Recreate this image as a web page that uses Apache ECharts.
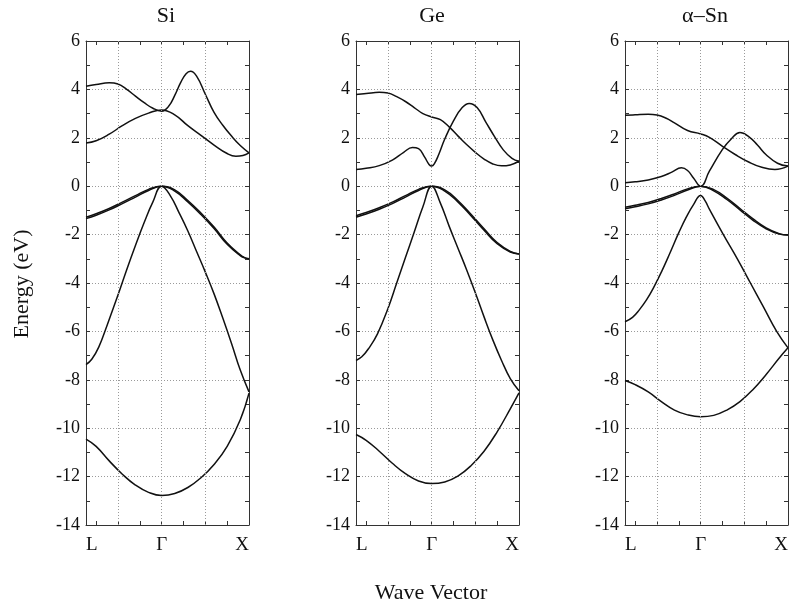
<!DOCTYPE html>
<html>
<head>
<meta charset="utf-8">
<script src="https://cdn.jsdelivr.net/npm/echarts@6/dist/echarts.min.js"></script>
<style>
  html, body { margin: 0; padding: 0; background: #fff; }
  #chart { width: 793px; height: 607px; }
</style>
</head>
<body>
<div id="chart"></div>
<script>
// k path: L (-0.866) -> Gamma (0) -> X (1)
const kPoints = [-0.866, 0, 1]
const kLabels = ['L', 'Γ', 'X']
const kGrid = [-0.5, 0, 0.5]
const kTicks = [-0.75, -0.5, -0.25, 0, 0.25, 0.5, 0.75]
const panelTitles = ['Si', 'Ge', 'α–Sn']
const energyMin = -14
const energyMax = 6

// each band is a list of [k, E(eV)]
const siBands = [
  [[-0.866, -10.45], [-0.75, -10.75], [-0.6, -11.35], [-0.45, -11.9], [-0.3, -12.35], [-0.15, -12.65], [0, -12.78], [0.15, -12.7], [0.3, -12.45], [0.45, -12.05], [0.6, -11.5], [0.75, -10.75], [0.9, -9.65], [1, -8.55]],
  [[-0.866, -7.37], [-0.8, -7.15], [-0.72, -6.65], [-0.62, -5.7], [-0.5, -4.5], [-0.4, -3.45], [-0.3, -2.45], [-0.2, -1.5], [-0.1, -0.65], [0, 0], [0.1, -0.4], [0.2, -1.1], [0.3, -1.85], [0.4, -2.7], [0.5, -3.55], [0.6, -4.45], [0.7, -5.45], [0.8, -6.5], [0.9, -7.6], [1, -8.5]],
  [[-0.866, -1.34], [-0.75, -1.2], [-0.6, -0.98], [-0.45, -0.72], [-0.3, -0.45], [-0.15, -0.18], [0, 0], [0.15, -0.2], [0.3, -0.65], [0.45, -1.17], [0.6, -1.75], [0.75, -2.4], [0.9, -2.87], [0.95, -2.96], [1, -3.0]],
  [[-0.866, -1.28], [-0.75, -1.14], [-0.6, -0.92], [-0.45, -0.66], [-0.3, -0.39], [-0.15, -0.13], [0, 0], [0.15, -0.15], [0.3, -0.59], [0.45, -1.11], [0.6, -1.69], [0.75, -2.35], [0.9, -2.84], [0.95, -2.95], [1, -3.0]],
  [[-0.866, 1.79], [-0.75, 1.88], [-0.6, 2.15], [-0.45, 2.5], [-0.3, 2.8], [-0.15, 3.02], [0, 3.15], [0.15, 2.95], [0.3, 2.5], [0.45, 2.1], [0.6, 1.7], [0.75, 1.35], [0.85, 1.24], [0.93, 1.27], [1, 1.38]],
  [[-0.866, 4.13], [-0.75, 4.2], [-0.6, 4.27], [-0.5, 4.22], [-0.4, 4.0], [-0.3, 3.72], [-0.2, 3.45], [-0.1, 3.22], [0, 3.1], [0.08, 3.3], [0.15, 3.75], [0.22, 4.3], [0.28, 4.65], [0.33, 4.75], [0.4, 4.55], [0.5, 3.8], [0.6, 3.05], [0.7, 2.52], [0.8, 2.07], [0.9, 1.68], [1, 1.38]],
]

const geBands = [
  [[-0.866, -10.26], [-0.75, -10.5], [-0.6, -10.95], [-0.45, -11.45], [-0.3, -11.88], [-0.15, -12.18], [0, -12.29], [0.15, -12.22], [0.3, -11.98], [0.45, -11.55], [0.6, -10.95], [0.75, -10.15], [0.9, -9.2], [1, -8.54]],
  [[-0.866, -7.2], [-0.8, -7.05], [-0.72, -6.7], [-0.62, -6.1], [-0.5, -5.05], [-0.4, -4.0], [-0.3, -2.95], [-0.2, -1.9], [-0.1, -0.85], [0, 0], [0.1, -0.7], [0.2, -1.65], [0.3, -2.55], [0.4, -3.45], [0.5, -4.4], [0.6, -5.4], [0.7, -6.35], [0.8, -7.2], [0.9, -7.95], [1, -8.45]],
  [[-0.866, -1.28], [-0.75, -1.15], [-0.6, -0.95], [-0.45, -0.72], [-0.3, -0.45], [-0.15, -0.18], [0, 0], [0.15, -0.2], [0.3, -0.65], [0.45, -1.22], [0.6, -1.82], [0.75, -2.38], [0.9, -2.72], [1, -2.8]],
  [[-0.866, -1.22], [-0.75, -1.09], [-0.6, -0.89], [-0.45, -0.66], [-0.3, -0.39], [-0.15, -0.13], [0, 0], [0.15, -0.15], [0.3, -0.59], [0.45, -1.16], [0.6, -1.76], [0.75, -2.33], [0.9, -2.69], [1, -2.8]],
  [[-0.866, 0.69], [-0.75, 0.74], [-0.6, 0.85], [-0.45, 1.08], [-0.32, 1.4], [-0.22, 1.6], [-0.15, 1.55], [-0.08, 1.2], [-0.03, 0.9], [0, 0.83], [0.03, 0.92], [0.08, 1.3], [0.15, 1.95], [0.25, 2.7], [0.35, 3.25], [0.43, 3.42], [0.52, 3.25], [0.62, 2.65], [0.72, 2.05], [0.82, 1.5], [0.92, 1.15], [1, 1.03]],
  [[-0.866, 3.79], [-0.75, 3.83], [-0.6, 3.88], [-0.5, 3.85], [-0.4, 3.7], [-0.3, 3.5], [-0.2, 3.25], [-0.1, 3.0], [0, 2.86], [0.1, 2.75], [0.2, 2.45], [0.3, 2.08], [0.4, 1.72], [0.5, 1.4], [0.6, 1.12], [0.7, 0.92], [0.8, 0.84], [0.9, 0.88], [1, 1.03]],
]

const snBands = [
  [[-0.866, -8.03], [-0.75, -8.2], [-0.6, -8.5], [-0.45, -8.9], [-0.3, -9.25], [-0.15, -9.45], [0, -9.53], [0.15, -9.47], [0.3, -9.25], [0.45, -8.9], [0.6, -8.4], [0.75, -7.78], [0.9, -7.1], [1, -6.68]],
  [[-0.866, -5.6], [-0.78, -5.42], [-0.7, -5.1], [-0.62, -4.7], [-0.54, -4.2], [-0.45, -3.55], [-0.35, -2.75], [-0.25, -1.92], [-0.16, -1.25], [-0.08, -0.75], [0, -0.38], [0.05, -0.6], [0.1, -0.95], [0.26, -2.0], [0.42, -3.0], [0.57, -4.0], [0.72, -5.0], [0.87, -6.0], [1, -6.68]],
  [[-0.866, -0.93], [-0.75, -0.85], [-0.6, -0.73], [-0.45, -0.57], [-0.3, -0.38], [-0.15, -0.16], [0, 0], [0.15, -0.19], [0.3, -0.55], [0.45, -0.98], [0.6, -1.41], [0.75, -1.76], [0.9, -1.98], [1, -2.02]],
  [[-0.866, -0.87], [-0.75, -0.79], [-0.6, -0.67], [-0.45, -0.51], [-0.3, -0.32], [-0.15, -0.11], [0, 0], [0.15, -0.14], [0.3, -0.49], [0.45, -0.92], [0.6, -1.35], [0.75, -1.72], [0.9, -1.96], [1, -2.02]],
  [[-0.866, 0.14], [-0.75, 0.18], [-0.6, 0.26], [-0.45, 0.4], [-0.33, 0.58], [-0.22, 0.76], [-0.15, 0.65], [-0.08, 0.33], [0, 0], [0.1, 0.62], [0.25, 1.52], [0.35, 1.95], [0.45, 2.22], [0.55, 2.05], [0.65, 1.7], [0.75, 1.3], [0.88, 0.95], [1, 0.83]],
  [[-0.866, 2.93], [-0.75, 2.95], [-0.6, 2.97], [-0.5, 2.94], [-0.4, 2.82], [-0.3, 2.62], [-0.15, 2.3], [0, 2.16], [0.1, 2.02], [0.25, 1.65], [0.4, 1.3], [0.55, 1.0], [0.7, 0.78], [0.85, 0.69], [1, 0.83]],
]

const panelBands = [siBands, geBands, snBands]

const FONT = '"Liberation Serif", "DejaVu Serif", serif'
const panelLeft = [86, 356, 625]
const titleX = [166, 432, 705]
const panelWidth = 163
const plotTop = 41
const plotHeight = 484

const chart = echarts.init(document.getElementById('chart'), null, { renderer: 'canvas' })

const grids = []
const xAxes = []
const yAxes = []
const series = []
const graphics = []

const tickStyle = { show: true, inside: true, length: 4, lineStyle: { color: '#333', width: 1 } }
const frameLine = { show: true, onZero: false, lineStyle: { color: '#333', width: 1 } }

panelBands.forEach((bands, p) => {
  grids.push({
    left: panelLeft[p], top: plotTop, width: panelWidth, height: plotHeight,
  })
  const xBase = { type: 'value', gridIndex: p, min: kPoints[0], max: kPoints[2], splitLine: { show: false }, axisLine: frameLine }
  xAxes.push({
    ...xBase, position: 'bottom',
    axisTick: { ...tickStyle, customValues: kTicks },
    axisLabel: {
      customValues: kPoints, margin: 11, color: '#111',
      fontFamily: FONT, fontSize: 19,
      alignMinLabel: 'left', alignMaxLabel: 'right',
      formatter: (v) => kLabels[kPoints.findIndex(k => Math.abs(k - v) < 1e-6)] || '',
    },
  })
  xAxes.push({
    ...xBase, position: 'top',
    axisTick: { ...tickStyle, customValues: kTicks },
    axisLabel: { show: false },
  })
  const yBase = { type: 'value', gridIndex: p, min: energyMin, max: energyMax, interval: 2, axisLine: frameLine }
  yAxes.push({
    ...yBase, position: 'left',
    axisTick: tickStyle,
    minorTick: { show: true, splitNumber: 2, length: 4, lineStyle: { color: '#333' } },
    axisLabel: { color: '#111', fontFamily: FONT, fontSize: 18, margin: 6 },
    splitLine: { show: true, lineStyle: { color: '#9a9a9a', type: [1, 2], width: 1 } },
  })
  yAxes.push({
    ...yBase, position: 'right',
    axisTick: tickStyle,
    minorTick: { show: true, splitNumber: 2, length: 4, lineStyle: { color: '#333' } },
    axisLabel: { show: false },
    splitLine: { show: false },
  })

  bands.forEach((band, b) => {
    const s = {
      type: 'line',
      xAxisIndex: 2 * p, yAxisIndex: 2 * p,
      data: band,
      smooth: 0.45,
      showSymbol: false,
      silent: true,
      lineStyle: { color: '#111', width: 1.5 },
      z: 3,
    }
    if (b === 0) {
      s.markLine = {
        silent: true, symbol: 'none', label: { show: false },
        lineStyle: { color: '#9a9a9a', type: [1, 2], width: 1 },
        data: kGrid.map(k => ({ xAxis: k })),
      }
    }
    series.push(s)
  })

  graphics.push({
    type: 'text', x: titleX[p], y: 16,
    style: { text: panelTitles[p], fill: '#111', font: '22px ' + FONT, textAlign: 'center', textVerticalAlign: 'middle' },
  })
})

graphics.push({
  type: 'text', x: 22, y: 284, rotation: Math.PI / 2,
  style: { text: 'Energy (eV)', fill: '#111', font: '22px ' + FONT, textAlign: 'center', textVerticalAlign: 'middle' },
})
graphics.push({
  type: 'text', x: 431, y: 593,
  style: { text: 'Wave Vector', fill: '#111', font: '22px ' + FONT, textAlign: 'center', textVerticalAlign: 'middle' },
})

chart.setOption({
  animation: false,
  backgroundColor: '#fff',
  grid: grids,
  xAxis: xAxes,
  yAxis: yAxes,
  series: series,
  graphic: graphics,
})
</script>
</body>
</html>
